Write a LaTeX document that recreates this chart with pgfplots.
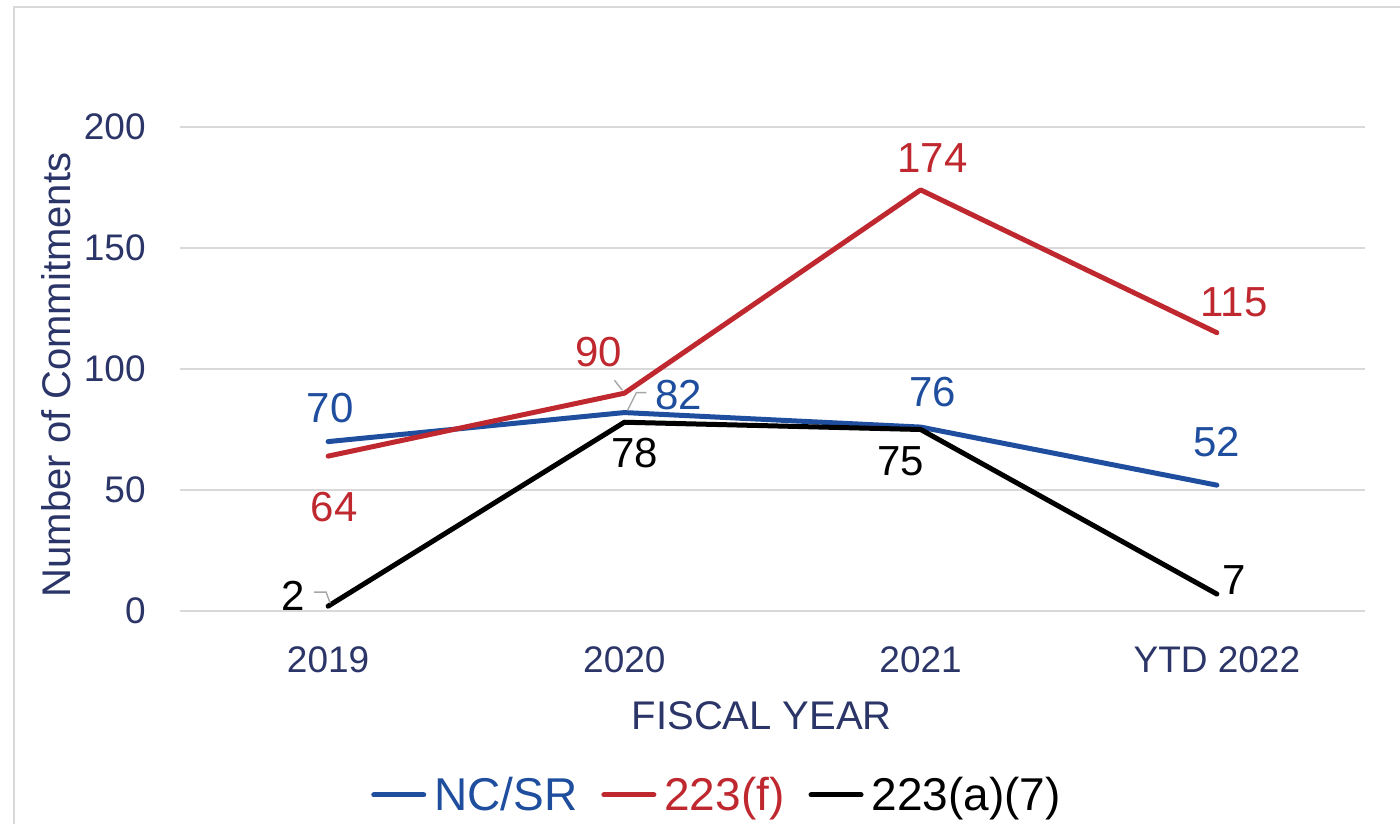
\documentclass[border=0pt]{standalone}
\usepackage{pgfplots}
\pgfplotsset{compat=1.18}
\usepackage{fontspec}
\setmainfont{Liberation Sans}
\definecolor{cblue}{HTML}{1F4E9E}
\definecolor{cred}{HTML}{C0282F}
\definecolor{navy}{HTML}{2B3568}
\definecolor{gridc}{HTML}{D9D9D9}
\definecolor{leader}{HTML}{A6A6A6}
\begin{document}
\begin{tikzpicture}
\useasboundingbox (0,0) rectangle (700pt,412pt);
\draw[gridc, line width=1pt] (7pt,0pt) -- (7pt,408.5pt) -- (700pt,408.5pt);
\begin{axis}[
  at={(90pt,106.5pt)}, anchor=south west,
  scale only axis, width=592.5pt, height=242pt,
  xmin=-0.5, xmax=3.5, ymin=0, ymax=200,
  xtick={0,1,2,3}, xticklabels={2019,2020,2021,YTD 2022},
  ytick={0,50,100,150,200},
  ymajorgrids, grid style={gridc, line width=1pt},
  axis line style={draw=none}, major tick length=0pt,
  /pgf/number format/assume math mode=true,
  tick label style={font=\fontsize{18.5}{20}\selectfont, text=navy},
  xticklabel style={anchor=center, yshift=-24.5pt},
  yticklabel style={anchor=east, inner sep=0pt, xshift=-17pt},
  xlabel={FISCAL YEAR}, ylabel={Number of Commitments},
  label style={font=\fontsize{20}{22}\selectfont, text=navy},
  xlabel style={at={(axis description cs:0.491,-0.217)}, anchor=center},
  ylabel style={at={(axis description cs:-0.1046,0.4876)}, anchor=center},
  clip=false,
  legend style={at={(axis description cs:0.454,-0.380)}, anchor=center, draw=none,
    legend columns=-1, font=\fontsize{23}{25}\selectfont,
    /tikz/every even column/.append style={column sep=10pt},
    /tikz/every odd column/.append style={column sep=2pt}},
  legend image code/.code={\draw[#1, line width=2.5pt, line cap=round] (0pt,0pt) -- (25pt,0pt);},
  visualization depends on={value \thisrow{dx} \as \dx},
  visualization depends on={value \thisrow{dy} \as \dy},
]
\addplot[cblue, line width=2.5pt, line cap=round, line join=round, nodes near coords,
  every node near coord/.append style={anchor=center, inner sep=0pt, xshift=\dx pt, yshift=\dy pt, font=\fontsize{21}{23}\selectfont, text=cblue}]
table {
x y dx dy
0 70 1 17
1 82 27 9
2 76 6 17.5
3 52 0 21.5
};
\addlegendentry{\textcolor{cblue}{NC/SR}}
\addplot[cred, line width=2.5pt, line cap=round, line join=round, nodes near coords,
  every node near coord/.append style={anchor=center, inner sep=0pt, xshift=\dx pt, yshift=\dy pt, font=\fontsize{21}{23}\selectfont, text=cred}]
table {
x y dx dy
0 64 3 -25.5
1 90 -13 20.5
2 174 6 16
3 115 8.5 15
};
\addlegendentry{\textcolor{cred}{223(f)}}
\addplot[black, line width=2.5pt, line cap=round, line join=round, nodes near coords,
  every node near coord/.append style={anchor=center, inner sep=0pt, xshift=\dx pt, yshift=\dy pt, font=\fontsize{21}{23}\selectfont, text=black}]
table {
x y dx dy
0 2 -17.5 5
1 78 5 -15.5
2 75 -10 -16
3 7 8.5 7
};
\addlegendentry{223(a)(7)}
\draw[leader, line width=0.7pt] ([xshift=-7pt,yshift=7pt]axis cs:0,2) -- ([xshift=-1pt,yshift=7pt]axis cs:0,2) -- ([xshift=1pt,yshift=1.5pt]axis cs:0,2);
\draw[leader, line width=0.7pt] ([xshift=-5pt,yshift=6.5pt]axis cs:1,90) -- ([xshift=-1pt,yshift=1.5pt]axis cs:1,90);
\draw[leader, line width=0.7pt] ([xshift=11pt,yshift=10pt]axis cs:1,82) -- ([xshift=6pt,yshift=10pt]axis cs:1,82) -- ([xshift=1.5pt,yshift=1pt]axis cs:1,82);
\end{axis}
\end{tikzpicture}
\end{document}
